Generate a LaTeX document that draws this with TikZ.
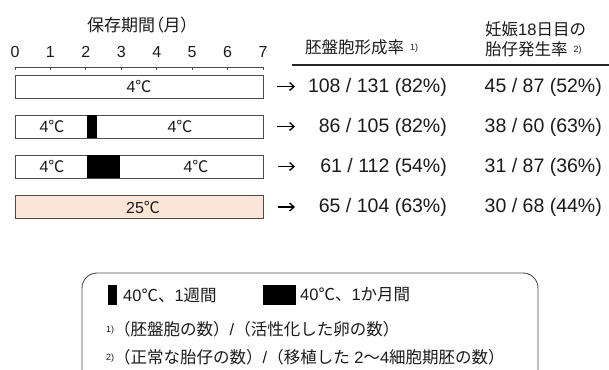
\documentclass[tikz,border=0pt]{standalone}
\usepackage{fontspec}
\setmainfont{Liberation Sans}
\newfontfamily\jp{Noto Sans CJK JP}
\newfontfamily\jpp[RawFeature=+palt]{Noto Sans CJK JP}
\usetikzlibrary{arrows.meta}
\newcommand\setfs[1]{\fontsize{#1}{#1}\selectfont}
\definecolor{peach}{HTML}{FBE5D6}
\definecolor{ink}{HTML}{1A1A1A}
\begin{document}
\begin{tikzpicture}[x=1pt,y=-1pt,
  bar/.style={draw=black!70, line width=0.9pt, fill=white, minimum width=248pt, minimum height=23pt, inner sep=0pt, anchor=west},
  blk/.style={fill=black, inner sep=0pt, minimum height=23pt, anchor=west},
  bartxt/.style={font=\setfs{16}, text=ink, inner sep=0pt},
  tick/.style={font=\setfs{16}, text=ink, inner sep=0pt},
  data/.style={font=\setfs{19.5}, text=ink, inner sep=0pt, anchor=east},
  head/.style={font=\setfs{16.5}, text=ink, inner sep=0pt, anchor=west, align=left},
  leg/.style={font=\setfs{16.5}, text=ink, inner sep=0pt, anchor=west},
  foot/.style={font=\setfs{16.5}, text=ink, inner sep=0pt, anchor=west},
  arr/.style={-{Straight Barb[length=4.5pt,width=8pt]}, line width=1.3pt, black},
]
\useasboundingbox (0,0) rectangle (609,369);

% title and axis
\node[font=\setfs{17}, text=ink, inner sep=0pt, anchor=west] (title) at (87,25) {{\jpp 保存期間（月）}};
\draw[black!70, line width=0.8pt] (15,67) -- (263,67);
\foreach \i in {0,...,7} {
  \pgfmathsetmacro\xx{15+248/7*\i}
  \draw[black!70, line width=0.8pt] (\xx,67) -- (\xx,70);
  \node[tick] (t\i) at (\xx,52) {\i};
}

% bars
\node[bar] (bar1) at (15,86.5) {};
\node[bartxt] (b1t) at (139,86.5) {4{\jp ℃}};

\node[bar] (bar2) at (15,126.5) {};
\node[blk, minimum width=10pt] (blk2) at (87,126.5) {};
\node[bartxt] (b2l) at (52,126.5) {4{\jp ℃}};
\node[bartxt] (b2r) at (180,126.5) {4{\jp ℃}};

\node[bar] (bar3) at (15,166.5) {};
\node[blk, minimum width=33pt] (blk3) at (87,166.5) {};
\node[bartxt] (b3l) at (52,166.5) {4{\jp ℃}};
\node[bartxt] (b3r) at (196,166.5) {4{\jp ℃}};

\node[bar, fill=peach] (bar4) at (15,207) {};
\node[bartxt] (b4t) at (143,207) {25{\jp ℃}};

% header
\node[head] (h1) at (305,47) {{\jp 胚盤胞形成率}\hspace{6pt}\raisebox{3pt}{\setfs{9}1)}};
\node[head, anchor=north west] (h2) at (485,21.5) {{\jp 妊娠}18{\jp 日目の}\\[3pt]{\jp 胎仔発生率}\hspace{6pt}\raisebox{3pt}{\setfs{9}2)}};
\draw[black!85, line width=1.6pt] (292,65) -- (609,65);

% data
\node[data] (d11) at (447,87) {108 / 131 (82\%)};
\node[data] (d12) at (602,87) {45 / 87 (52\%)};
\node[data] (d21) at (447,127) {86 / 105 (82\%)};
\node[data] (d22) at (602,127) {38 / 60 (63\%)};
\node[data] (d31) at (447,167) {61 / 112 (54\%)};
\node[data] (d32) at (602,167) {31 / 87 (36\%)};
\node[data] (d41) at (447,207) {65 / 104 (63\%)};
\node[data] (d42) at (602,207) {30 / 68 (44\%)};

% arrows
\coordinate (a1) at (295,86.5);
\coordinate (a2) at (295,126.5);
\coordinate (a3) at (295,166.5);
\coordinate (a4) at (295,207);
\draw[arr, shorten <=13pt] (bar1.east) -- (a1);
\draw[arr, shorten <=13pt] (bar2.east) -- (a2);
\draw[arr, shorten <=14pt] (bar3.east) -- (a3);
\draw[arr, shorten <=14pt] (bar4.east) -- (a4);

% legend
\draw[black!70, line width=0.9pt, rounded corners=15pt] (82,273) rectangle (538,400);
\node[blk, minimum width=9pt, minimum height=20pt] (lg1) at (108,295) {};
\node[leg] (lg1t) at (123,295) {40{\jp ℃、}1{\jp 週間}};
\node[blk, minimum width=33pt, minimum height=20pt] (lg2) at (263,295) {};
\node[leg] (lg2t) at (300,295) {40{\jp ℃、}1{\jp か月間}};
\node[foot] (f1) at (106,329) {\raisebox{3pt}{\setfs{9}1)}{\jp （胚盤胞の数）}/{\jp （活性化した卵の数）}};
\node[foot] (f2) at (106,357) {\raisebox{3pt}{\setfs{9}2)}{\jp （正常な胎仔の数）}/{\jp （移植した} 2{\jp 〜}4{\jp 細胞期胚の数）}};
\end{tikzpicture}
\end{document}
